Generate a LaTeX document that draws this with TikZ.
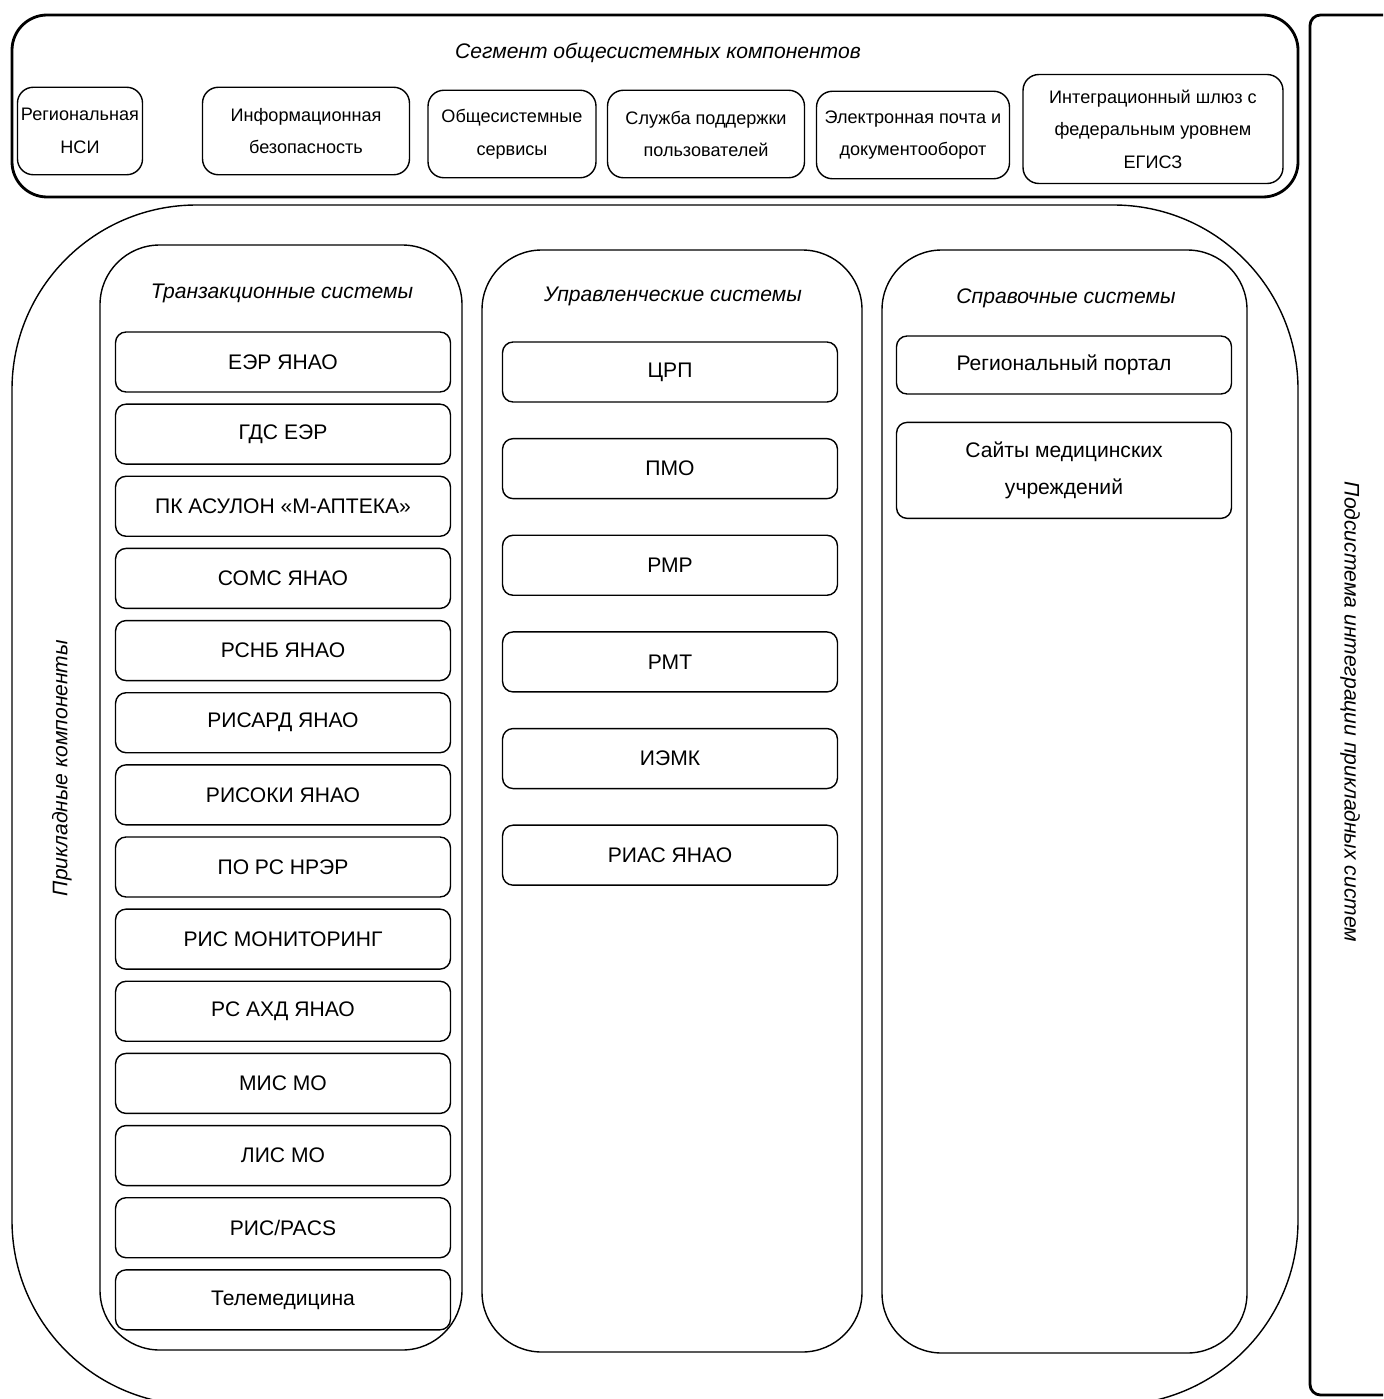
\documentclass[tikz,border=0pt]{standalone}
\usepackage{fontspec}
\setmainfont{Liberation Sans}
\usetikzlibrary{positioning}

\begin{document}
\begin{tikzpicture}[
            x=0.02cm, y=-0.02cm,
            font=\fontsize{12}{14}\selectfont,
            frame/.style={draw, line width=0.8pt, rounded corners=34pt},
            item/.style={
                    draw, line width=0.8pt, rounded corners=6pt,
                    align=center, minimum width=6.7cm, minimum height=1.2cm,
                    inner sep=2pt
                },
            topitem/.style={
                    draw, line width=0.8pt, rounded corners=9pt,
                    align=center, inner sep=2pt, minimum height=1.75cm,
                    font=\fontsize{10.3}{18.5}\selectfont
                },
            title/.style={font=\fontsize{12}{14}\selectfont\itshape}
            ]
            \useasboundingbox (0,0) rectangle (1383,1399);
            \clip (0,0) rectangle (1383,1399);

            % outer frames
            \draw[line width=1.6pt, rounded corners=20pt] (12,15) rectangle (1298,197);
            \draw[line width=1.6pt, rounded corners=6pt] (1310,15) rectangle (1440,1395);
            \draw[line width=0.8pt, rounded corners=105pt] (12,205) rectangle (1298,1405);
            \draw[frame] (100,245) rectangle (462,1350);
            \draw[frame] (482,250) rectangle (862,1352);
            \draw[frame] (882,250) rectangle (1247,1353);

            \node[title] (segment) at (658,53) {Сегмент общесистемных компонентов};
            \node[title, rotate=90] (applied) at (62,768) {Прикладные компоненты};
            \node[title, rotate=-90] (integration) at (1350,712)
            {Подсистема интеграции прикладных систем};

            \node[topitem, minimum width=2.45cm] (nsi) at (80,131)
            {Региональная\\НСИ};
            \node[topitem, minimum width=4.14cm] (security) at (306,131)
            {Информационная\\безопасность};
            \node[topitem, minimum width=3.36cm] (services) at (512,134)
            {Общесистемные\\сервисы};
            \node[topitem, minimum width=3.94cm] (support) at (706,134)
            {Служба поддержки\\пользователей};
            \node[topitem, minimum width=3.86cm] (mail) at (913,135)
            {Электронная почта и\\документооборот};
            \node[topitem, minimum width=5.2cm, minimum height=2.18cm] (gateway) at (1153,129)
            {Интеграционный шлюз с\\федеральным уровнем\\ЕГИСЗ};

            \node[title] (transact) at (282,293) {Транзакционные системы};
            \node[item] (erz) at (283,362) {ЕЭР ЯНАО};
            \node[item, below=0.215cm of erz] (gds) {ГДС ЕЭР};
            \node[item, below=0.215cm of gds] (asulon) {ПК АСУЛОН «М-АПТЕКА»};
            \node[item, below=0.215cm of asulon] (soms) {СОМС ЯНАО};
            \node[item, below=0.215cm of soms] (rsnb) {РСНБ ЯНАО};
            \node[item, below=0.215cm of rsnb] (risard) {РИСАРД ЯНАО};
            \node[item, below=0.215cm of risard] (risoki) {РИСОКИ ЯНАО};
            \node[item, below=0.215cm of risoki] (nrer) {ПО РС НРЭР};
            \node[item, below=0.215cm of nrer] (monitor) {РИС МОНИТОРИНГ};
            \node[item, below=0.215cm of monitor] (ahd) {РС АХД ЯНАО};
            \node[item, below=0.215cm of ahd] (mis) {МИС МО};
            \node[item, below=0.215cm of mis] (lis) {ЛИС МО};
            \node[item, below=0.215cm of lis] (pacs) {РИС/PACS};
            \node[item, below=0.215cm of pacs] (telemed) {Телемедицина};

            \node[title] (manage) at (673,296) {Управленческие системы};
            \node[item] (crp) at (670,372) {ЦРП};
            \node[item, below=0.705cm of crp] (pmo) {ПМО};
            \node[item, below=0.705cm of pmo] (rmr) {РМР};
            \node[item, below=0.705cm of rmr] (rmt) {РМТ};
            \node[item, below=0.705cm of rmt] (iemk) {ИЭМК};
            \node[item, below=0.705cm of iemk] (rias) {РИАС ЯНАО};

            \node[title] (reference) at (1066,298) {Справочные системы};
            \node[item, minimum height=1.16cm] (portal) at (1064,365) {Региональный портал};
            \node[item, minimum height=1.92cm, below=0.54cm of portal,
                font=\fontsize{12}{21.5}\selectfont] (sites)
            {Сайты медицинских\\учреждений};
        \end{tikzpicture}
\end{document}
